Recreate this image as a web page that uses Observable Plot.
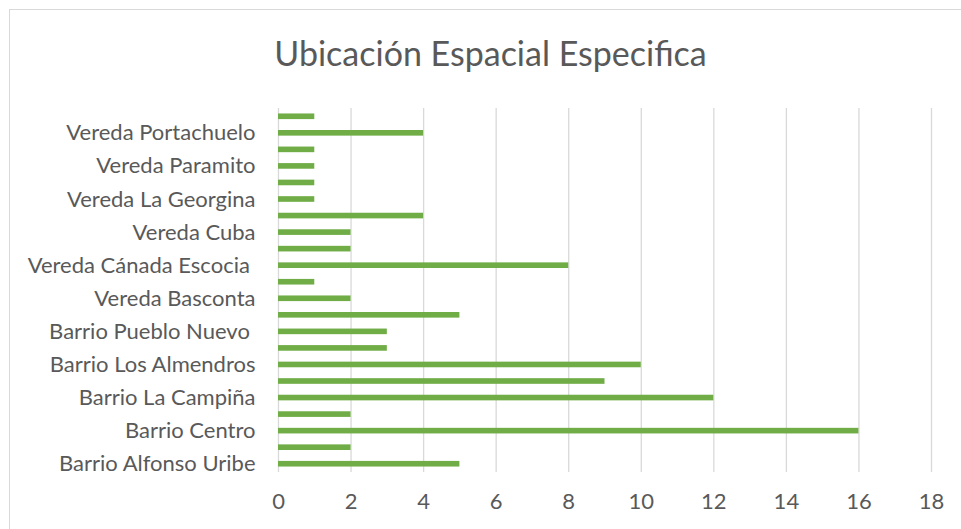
<!DOCTYPE html>
<html>
<head>
<meta charset="utf-8">
<script src="https://cdn.jsdelivr.net/npm/d3@7"></script>
<script src="https://cdn.jsdelivr.net/npm/@observablehq/plot@0.6"></script>
<style>
  html, body { margin: 0; padding: 0; background: #fff; overflow: hidden; }
  #wrap { position: relative; width: 961px; height: 529px; }
  #frame { position: absolute; left: 9px; top: 9px; width: 1000px; height: 600px; border: 1.5px solid #d9d9d9; box-sizing: border-box; pointer-events: none; }
  #title { position: absolute; left: 0; top: 0; width: 981px; height: 100px; text-align: center; font-family: Lato, sans-serif; font-size: 34px; color: #595959; line-height: 106px; }
  #chart { position: absolute; left: 0; top: 100px; }
  svg text { white-space: pre; }
</style>
</head>
<body>
<div id="wrap">
  <div id="frame"></div>
  <div id="title">Ubicación Espacial Especifica</div>
  <div id="chart"></div>
</div>
<script>
// categories listed from bottom to top; only every other one is labeled in the reference
const categories = [
  "Barrio Alfonso Uribe", "Categoría 2", "Barrio Centro", "Categoría 4",
  "Barrio La Campiña", "Categoría 6", "Barrio Los Almendros", "Categoría 8",
  "Barrio Pueblo Nuevo ", "Categoría 10", "Vereda Basconta", "Categoría 12",
  "Vereda Cánada Escocia ", "Categoría 14", "Vereda Cuba", "Categoría 16",
  "Vereda La Georgina", "Categoría 18", "Vereda Paramito", "Categoría 20",
  "Vereda Portachuelo", "Categoría 22"
];
const values = [5, 2, 16, 2, 12, 9, 10, 3, 3, 5, 2, 1, 8, 2, 2, 4, 1, 1, 1, 1, 4, 1];
const shownLabels = categories.filter((d, i) => i % 2 === 0);
const xTicks = [0, 2, 4, 6, 8, 10, 12, 14, 16, 18];

const data = categories.map((c, i) => ({category: c, value: values[i]}));

const chart = Plot.plot({
  width: 961,
  height: 429,
  marginTop: 8,
  marginBottom: 57,
  marginLeft: 278,
  marginRight: 30,
  style: {fontFamily: "Lato, sans-serif", color: "#595959", background: "transparent"},
  x: {domain: [0, 18], ticks: xTicks, label: null},
  y: {domain: categories.slice().reverse(), paddingInner: 0.66, paddingOuter: 0.33, round: false, label: null},
  marks: [
    Plot.gridX(xTicks, {stroke: "#d9d9d9", strokeOpacity: 1, strokeWidth: 1.3}),
    Plot.barX(data, {x: "value", y: "category", fill: "#70ad47"}),
    Plot.axisX({ticks: xTicks, tickSize: 0, tickPadding: 21, fontSize: 22, fill: "#595959", label: null}),
    Plot.axisY({ticks: shownLabels, tickSize: 0, tickPadding: 23, fontSize: 22, fill: "#595959", label: null})
  ]
});
document.getElementById("chart").appendChild(chart);
</script>
</body>
</html>
